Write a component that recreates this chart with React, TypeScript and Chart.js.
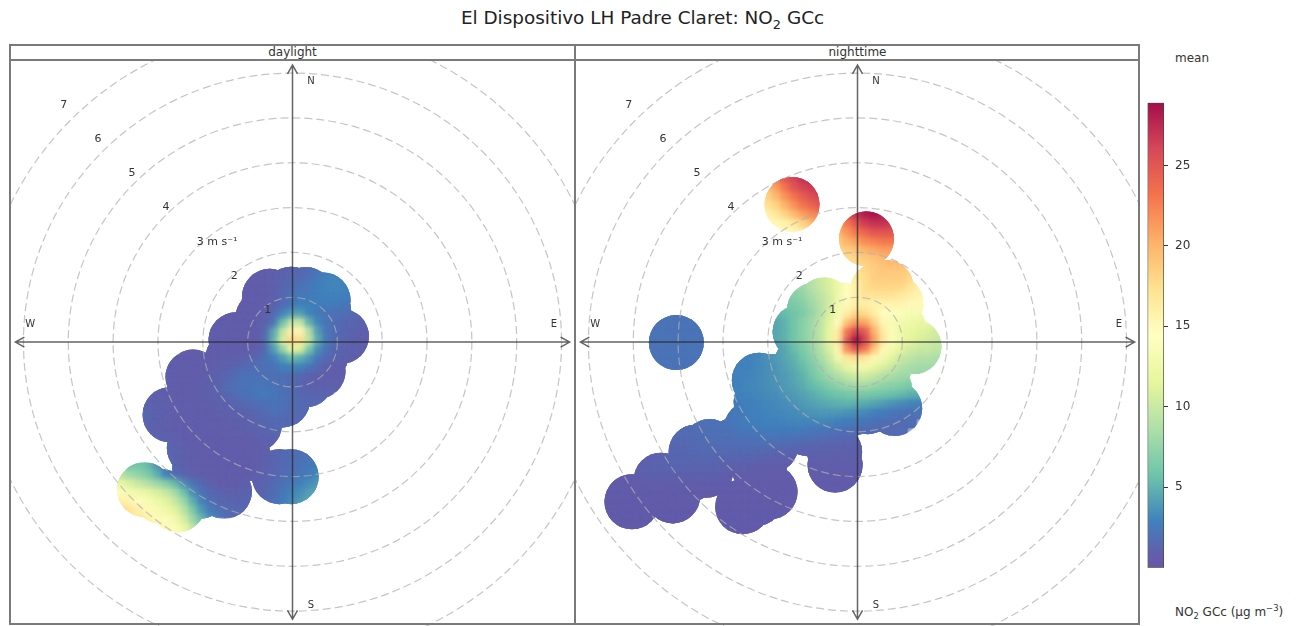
import React, { useEffect, useRef } from "react";
import { Chart, registerables } from "chart.js";

Chart.register(...registerables);

// ---------- data ----------
const PANEL_NAMES = ["daylight", "nighttime"];
const RING_SPEEDS = [1, 2, 3, 4, 5, 6, 7];
const RING_LABELS = ["1", "2", "3 m s\u207B\u00B9", "4", "5", "6", "7"];
const RING_LABEL_U = [-0.55, -1.3, -1.68, -2.82, -3.58, -4.34, -5.1];
const RING_LABEL_V = [0.71, 1.47, 2.23, 3.01, 3.77, 4.53, 5.29];
const COMPASS_NAMES = ["N", "E", "S", "W"];
const COMPASS_U = [0.41, 5.83, 0.41, -5.85];
const COMPASS_V = [5.82, 0.4, -5.87, 0.4];
const COLORBAR_TICKS = [5, 10, 15, 20, 25];
const VALUE_MIN = 0;
const VALUE_MAX = 28.9;
const BIN_RADIUS = 0.613;
const CELL_STEP = 0.2;

// occupied wind bins: [u, v] in m/s
const dayBins: [number, number][] = [
  [-0.51, 1.02], [-0.03, 1.07], [0.3, 1.06], [0.68, 0.94], [0.69, 0.72], [-0.55, 0.76], [-0.66, 0.54], [-0.14, 0.54], [0.45, 0.54],
  [-1.26, 0.05], [-0.74, 0.05], [-0.14, 0.05], [0.45, 0.05], [1.09, 0.13], [-1.33, -0.36], [-0.74, -0.36],
  [-0.14, -0.36], [0.64, -0.28], [0.57, -0.65], [-2.22, -0.78], [-1.7, -0.8], [-1.11, -0.8], [-0.59, -0.8],
  [-0.14, -0.8], [0.3, -0.84], [-2.22, -1.29], [-1.7, -1.29], [-1.18, -1.29], [-0.66, -1.32], [-0.22, -1.29],
  [-2.73, -1.62], [-2.22, -1.7], [-1.7, -1.7], [-1.18, -1.7], [-0.85, -1.84], [-2.19, -2.36], [-1.7, -2.36],
  [-1.11, -2.51], [-2.07, -2.81], [-1.52, -2.74], [-2.07, -3.33], [-1.52, -3.33], [-3.3, -3.29], [-2.93, -3.44],
  [-2.56, -3.63], [-0.03, -3.0], [-0.29, -3.0],
];
const nightBins: [number, number][] = [
  [-1.46, 3.07], [0.2, 2.3], [-4.04, -0.01], [0.64, 1.22], [0.45, 1.16], [0.86, 0.86], [0.9, 0.34], [1.26, -0.1],
  [-0.74, 0.83], [-0.96, 0.71], [-1.28, 0.23], [-0.36, 0.71], [0.08, 0.64], [-0.66, 0.12], [-0.14, 0.12], [0.45, 0.12],
  [-0.74, -0.29], [-0.22, -0.29], [0.3, -0.29], [0.6, -0.55], [0.6, -1.03], [0.83, -1.48], [0.23, -1.44], [-0.14, -1.48],
  [-2.19, -0.85], [-2.37, -1.93], [-2.15, -1.33], [-1.85, -0.88], [-1.78, -1.4], [-1.18, -1.33], [-0.66, -1.33],
  [-1.48, -0.81], [-0.88, -0.81], [-0.36, -0.81], [0.08, -0.81], [-1.26, -0.51], [-1.7, -1.93], [-1.11, -1.93],
  [-1.93, -2.3], [-0.74, -2.0], [-0.51, -2.45], [-0.5, -2.74], [-2.74, -2.3], [-3.3, -2.33], [-3.6, -2.45],
  [-3.38, -2.86], [-3.71, -2.93], [-2.19, -2.82], [-4.38, -3.08], [-5.03, -3.56], [-4.12, -3.43], [-1.95, -3.34],
  [-2.26, -3.49], [-2.56, -3.67],
];

// surface rows: [v, first u, values along u]
const dayRows: [number, number, number[]][] = [
  [1.8, -0.6, [1, 1, 1.1, 1.2, 1.3, 1.6, 1.8]],
  [1.6, -0.8, [0.9, 0.9, 1, 1.1, 1.3, 1.4, 1.7, 2.2, 2.6, 2.8]],
  [1.4, -1.2, [0.9, 0.9, 0.9, 0.9, 1, 1.2, 1.5, 1.7, 2, 2.6, 3, 3.1, 3]],
  [1.2, -1.4, [0.8, 0.8, 0.8, 0.8, 0.9, 1, 1.3, 1.8, 2.2, 2.5, 2.8, 3.1, 3.2, 3, 3]],
  [1.0, -1.4, [0.8, 0.8, 0.8, 0.8, 0.9, 1.1, 1.5, 2.1, 2.5, 2.6, 2.8, 3, 3, 2.9, 2.6, 2.6]],
  [0.8, -1.6, [0.8, 0.8, 0.8, 0.8, 0.8, 0.9, 1.2, 1.6, 2.4, 2.9, 2.9, 2.8, 2.8, 2.6, 2.4, 2.2, 2.2]],
  [0.6, -2, [0.8, 0.8, 0.8, 0.8, 0.8, 0.8, 0.8, 1, 1.6, 3, 4, 4.2, 3, 2.5, 2.2, 2, 1.9, 1.7, 1.6]],
  [0.4, -2.2, [0.8, 0.8, 0.8, 0.8, 0.8, 0.8, 0.8, 0.8, 1.2, 2, 5.5, 9.5, 10, 5, 3, 2.2, 1.8, 1.5, 1.3, 1.1, 1]],
  [0.2, -2.2, [0.8, 0.8, 0.8, 0.8, 0.8, 0.8, 0.8, 0.8, 1.4, 4.5, 9.5, 15.5, 15, 9, 4, 2.2, 1.7, 1.4, 1.2, 1, 1]],
  [0, -2.2, [0.8, 0.8, 0.8, 0.8, 0.8, 0.8, 0.8, 0.8, 1.6, 5, 11, 18, 17.5, 9.5, 4.5, 2.3, 1.6, 1.3, 1.1, 1, 1]],
  [-0.2, -2.4, [0.9, 0.8, 0.8, 0.8, 0.8, 0.8, 0.8, 0.8, 0.9, 1.4, 4, 7.5, 12, 11.5, 6.5, 3.5, 2.1, 1.4, 1.2, 1, 1, 1]],
  [-0.4, -3, [1, 0.9, 0.9, 0.8, 0.8, 0.8, 0.8, 0.9, 1, 1, 1.2, 1.5, 2, 2.8, 4, 5.5, 5, 3.8, 2.2, 1.6, 1.2, 1.1, 1, 1]],
  [-0.6, -3.2, [1, 1, 0.9, 0.9, 0.8, 0.8, 0.8, 0.9, 1, 1.1, 1.4, 1.7, 1.9, 2, 2.2, 2.8, 3, 3, 2.4, 1.6, 1, 0.9, 0.9, 0.9]],
  [-0.8, -3.2, [1.1, 1, 0.9, 0.9, 0.8, 0.8, 0.9, 1, 1.2, 1.5, 1.9, 2.1, 2.1, 2, 1.9, 1.9, 1.7, 1.4, 1.1, 1, 0.9, 0.9, 0.9]],
  [-1, -3.4, [1.2, 1.1, 1, 0.9, 0.9, 0.8, 0.9, 1, 1.1, 1.3, 1.7, 2, 2.2, 2.3, 2.4, 2.2, 2, 1.7, 1.3, 1.1, 1, 1, 1]],
  [-1.2, -3.6, [1.4, 1.3, 1.2, 1, 0.9, 0.9, 0.9, 0.9, 1, 1.1, 1.3, 1.6, 1.9, 2.1, 2.4, 2.5, 2.4, 2.1, 1.8, 1.5, 1.4, 1.3, 1.3]],
  [-1.4, -3.6, [1.5, 1.4, 1.2, 1.1, 1, 0.9, 0.9, 0.9, 0.9, 1, 1.1, 1.2, 1.4, 1.7, 1.9, 2.1, 2.2, 2, 1.7, 1.6, 1.5, 1.5]],
  [-1.6, -3.6, [1.6, 1.5, 1.3, 1.1, 1, 0.9, 0.9, 0.9, 0.9, 0.9, 1, 1, 1.1, 1.2, 1.4, 1.7, 2, 1.9, 1.6, 1.6, 1.6]],
  [-1.8, -3.6, [1.7, 1.5, 1.3, 1.1, 1, 0.9, 0.9, 0.9, 0.9, 0.9, 0.9, 1, 1, 1.1, 1.3, 1.4, 1.6, 1.6, 1.6, 1.6]],
  [-2, -3.4, [1.4, 1.2, 1.1, 1, 0.9, 0.9, 0.9, 0.9, 0.9, 0.9, 0.9, 1, 1.1, 1.2, 1.4, 1.5, 1.6, 1.6]],
  [-2.2, -3, [1.3, 1.2, 1, 0.9, 0.9, 0.9, 0.8, 0.8, 0.8, 0.8, 0.8, 0.9, 1, 1.2, 1.4]],
  [-2.4, -3, [1.5, 1.4, 1.2, 1, 0.9, 0.8, 0.8, 0.8, 0.8, 0.8, 0.8, 0.9, 1, 1.2, 1.4, 1.6, 1.7, 1.8]],
  [-2.6, -3, [1.6, 1.5, 1.2, 1, 0.9, 0.8, 0.8, 0.8, 0.8, 0.8, 0.8, 0.9, 1, 1.3, 1.6, 1.8, 2, 2.2, 2.3]],
  [-2.8, -3.6, [6, 6, 5.5, 4, 2, 1.4, 1.1, 0.9, 0.8, 0.8, 0.8, 0.8, 0.8, 0.8, 0.9, 1, 1.3, 1.6, 1.9, 2.2, 2.5, 2.8, 3]],
  [-3, -4, [9, 9, 8, 7.5, 6.5, 5, 3, 1.8, 1.3, 1, 0.9, 0.8, 0.8, 0.8, 0.8, 0.8, 1, 1.2, 1.4, 1.7, 2, 2.3, 2.8, 3.3, 3.6]],
  [-3.2, -4, [13, 12, 11, 10, 9, 8, 7, 5.5, 3.5, 2.2, 1.5, 1.1, 0.9, 0.8, 0.9, 1, 1.1, 1.3, 1.6, 2, 2.5, 3, 3.5, 4, 4.2]],
  [-3.4, -4, [14, 14, 13, 12.5, 12, 11, 10, 8.5, 6, 3.5, 2.2, 1.5, 1.2, 1, 1, 1.2, 1.2, 1.4, 1.8, 2.4, 3, 3.6, 4.2, 4.6, 4.8]],
  [-3.6, -4, [16, 16, 15.5, 14.5, 13.5, 12.5, 11.5, 10, 8, 5, 3, 2, 1.5, 1.3, 1.3, 1.3, 1.4, 1.6, 2, 2.6, 3.3, 4, 4.6]],
  [-3.8, -3.8, [18, 17, 16, 15, 13.5, 12.5, 11.5, 9.5, 6.5, 4, 2.6, 2, 1.6, 1.5, 1.6]],
  [-4, -3.4, [17, 16, 15, 14, 13, 11, 8, 5.5, 3.5]],
  [-4.2, -3, [16, 15, 14, 12.5, 10, 7]],
  [-4.4, -2.8, [15, 15, 13, 11]],
];

const nightRows: [number, number, number[]][] = [
  [3.8, -2, [23, 24, 26, 27, 27.5, 28]],
  [3.6, -2.2, [20, 21, 23, 25, 26, 27, 27.5, 28]],
  [3.4, -2.2, [18, 19, 21, 23, 25, 26, 26.5, 27]],
  [3.2, -2.2, [17, 18, 19.5, 21.5, 23, 24.5, 25.5, 26]],
  [3.0, -2.2, [16, 17, 18, 20, 21.5, 23, 24, 25]],
  [2.8, -2.2, [15, 15.5, 16.5, 18, 19.5, 21, 22, 23]],
  [2.6, -2, [15, 15, 15.5, 16.5, 18, 19.5, 20.5]],
  [2.4, -1.8, [14.5, 15, 15, 16, 17]],
  [3.0, -0.2, [27, 28, 29, 29, 28]],
  [2.8, -0.4, [24, 25.5, 27, 28, 28.5, 28, 27]],
  [2.6, -0.6, [19, 21, 23, 25, 26.5, 27, 27, 26.5, 26]],
  [2.4, -0.6, [18, 20, 21.5, 23, 24, 25, 25, 25, 25]],
  [2.2, -0.6, [18, 18.5, 20, 21, 22, 22.5, 23, 23, 23]],
  [2.0, -0.6, [17.5, 18, 18.5, 19, 20, 20.5, 21, 21, 21]],
  [1.8, -0.4, [17, 17.5, 18, 18.5, 19, 19.5, 20, 20, 19.5]],
  [1.6, -0.4, [15, 16, 17, 18, 18.5, 19, 19, 19, 18.5, 18]],
  [1.4, -1.2, [8, 9, 10, 11, 12.5, 15, 16.5, 17.5, 18.5, 18.5, 18.5, 18.5, 18, 17]],
  [1.2, -1.6, [6.5, 7.5, 8, 9, 10, 11, 12.5, 14.5, 16, 17.5, 18, 18, 18, 18, 17, 16]],
  [1.0, -1.8, [5.5, 6.5, 7, 7.5, 8.5, 9.5, 10.5, 12.5, 14.5, 16, 17, 17, 17, 17, 16.5, 16, 15.5, 15]],
  [0.8, -2, [5, 5.5, 6, 6.5, 7, 8, 9, 10.5, 13, 15, 16, 16, 15.5, 15.5, 15.5, 15.5, 15, 15, 14.5]],
  [0.6, -2, [4.5, 5, 5.5, 6, 6.5, 7.5, 9, 11, 13.5, 16, 18, 17.5, 16, 14.5, 14, 14, 13.5, 13.5, 13, 13]],
  [0.4, -2.2, [4, 4.2, 4.5, 5, 6, 7, 8, 9.5, 11.5, 14.5, 19, 21, 20.5, 18, 15, 13.5, 13, 12.5, 12, 12, 11.5]],
  [0.2, -2.2, [4, 4.2, 4.5, 5, 6, 7, 8, 9.5, 12, 16, 23, 26, 24.5, 20, 16, 14, 12.5, 12, 11.5, 11, 10.5, 10.5]],
  [0, -2.2, [4, 4.2, 4.5, 5, 6, 7, 8, 9.5, 12, 16.5, 25, 29, 26, 21, 16.5, 14, 12.5, 11.5, 11, 10.5, 10, 10]],
  [-0.2, -2.8, [3, 3, 3, 3.2, 3.6, 4, 4.5, 5.5, 6.5, 7.5, 9, 11, 15, 22, 25, 23, 19, 15, 13, 11.5, 10.5, 10, 10, 9.5, 9.5]],
  [-0.4, -3, [3, 3, 3, 3, 3.2, 3.6, 4, 4.5, 5, 6, 7, 8.5, 10, 13, 16.5, 17, 16.5, 15, 13, 11.5, 10, 9.5, 9, 9, 8.5]],
  [-0.6, -3, [3, 3, 3, 3, 3.2, 3.5, 3.8, 4.2, 4.8, 5.5, 6.5, 7.5, 9, 10.5, 12, 13, 13, 12, 11, 10, 9, 8.5, 8.2, 8]],
  [-0.8, -3, [3, 3, 3, 3.1, 3.3, 3.5, 3.8, 4, 4.5, 5, 6, 7, 8, 8.8, 9.8, 10.5, 10.5, 9.8, 9, 8.5, 8, 8, 7.5]],
  [-1, -3, [3, 3, 3, 3.2, 3.3, 3.5, 3.7, 4, 4.4, 4.8, 5.5, 6, 6.8, 7.5, 8, 8.5, 8.5, 8, 7.5, 7.2, 7, 6.5, 6.5]],
  [-1.2, -3, [3, 3, 3, 3.1, 3.2, 3.4, 3.5, 3.8, 4, 4.4, 4.8, 5.2, 5.7, 6, 6.3, 6.5, 6.5, 6.2, 6, 5.8, 5.5, 5, 5, 5]],
  [-1.4, -3.2, [2.5, 2.6, 2.8, 2.8, 2.9, 3, 3.2, 3.3, 3.5, 3.7, 4, 4.3, 4.6, 4.8, 5, 5.2, 5, 4.8, 4.5, 4.2, 3.8, 3.5, 3.2, 3, 3]],
  [-1.6, -3.6, [2, 2, 2.2, 2.3, 2.4, 2.6, 2.8, 3, 3.1, 3.2, 3.3, 3.4, 3.6, 3.8, 3.9, 4, 4, 3.8, 3.6, 3.4, 3, 2.8, 2.5, 2.2, 2.1, 2.1]],
  [-1.8, -4.2, [1.7, 1.7, 1.8, 1.9, 2, 2.1, 2.2, 2.4, 2.6, 2.8, 2.9, 3, 3, 3.1, 3.2, 3.2, 3.2, 3.3, 3.2, 3, 2.8, 2.6, 2.4, 2.1, 2, 1.9, 1.8, 1.8]],
  [-2, -4.4, [1.5, 1.6, 1.7, 1.8, 1.8, 1.9, 2, 2, 2.2, 2.4, 2.5, 2.6, 2.7, 2.7, 2.7, 2.7, 2.6, 2.5, 2.4, 2.3, 2.2, 2, 1.9, 1.8, 1.7, 1.6, 1.6, 1.6]],
  [-2.2, -4.6, [1.3, 1.4, 1.5, 1.6, 1.6, 1.7, 1.8, 1.9, 1.9, 1.9, 2, 2.1, 2.1, 2.2, 2.2, 2.1, 2, 1.9, 1.9, 1.7, 1.6, 1.5, 1.5, 1.4, 1.4]],
  [-2.4, -4.8, [1.1, 1.2, 1.3, 1.4, 1.5, 1.5, 1.6, 1.7, 1.7, 1.7, 1.7, 1.7, 1.7, 1.8, 1.7, 1.6, 1.5, 1.4, 1.3, 1.3, 1.2, 1.2, 1.1, 1.1, 1.1, 1.1, 1.1]],
  [-2.6, -5.2, [0.9, 0.9, 1, 1.1, 1.2, 1.3, 1.4, 1.4, 1.4, 1.5, 1.5, 1.4, 1.4, 1.4, 1.4, 1.3, 1.2, 1.2, 1.1, 1.1, 1.1, 1, 1, 1, 1, 1, 1, 1, 1]],
  [-2.8, -5.6, [0.8, 0.8, 0.9, 1, 1.1, 1.2, 1.2, 1.3, 1.3, 1.3, 1.3, 1.3, 1.3, 1.2, 1.1, 1.1, 1, 1, 0.9, 0.9, 0.9, 0.9, 0.9, 0.9, 0.9, 0.9, 0.9, 0.9, 0.9, 0.9, 0.9]],
  [-3, -5.8, [0.7, 0.7, 0.8, 0.8, 0.9, 1, 1.1, 1.1, 1.1, 1.1, 1.1, 1.1, 1.1, 1.1, 1, 0.9, 0.9, 0.8, 0.8, 0.8, 0.8, 0.8, 0.8, 0.8, 0.8, 0.8, 0.8, 0.8, 0.8, 0.8, 0.8, 0.8, 0.8]],
  [-3.2, -5.8, [0.6, 0.6, 0.7, 0.7, 0.7, 0.8, 0.9, 0.9, 0.9, 0.9, 0.9, 0.9, 0.9, 0.9, 0.8, 0.8, 0.8, 0.7, 0.7, 0.7, 0.7, 0.7, 0.7, 0.7, 0.7, 0.7, 0.7, 0.7, 0.7, 0.7, 0.7, 0.7, 0.7]],
  [-3.4, -5.8, [0.6, 0.6, 0.6, 0.7, 0.7, 0.7, 0.7, 0.7, 0.7, 0.7, 0.7, 0.7, 0.7, 0.7, 0.7, 0.7, 0.7, 0.7, 0.7, 0.7, 0.7, 0.7, 0.7, 0.7, 0.7, 0.7, 0.7, 0.7, 0.7]],
  [-3.6, -5.8, [0.6, 0.6, 0.6, 0.6, 0.6, 0.6, 0.7, 0.7, 0.7, 0.7, 0.7, 0.7, 0.7, 0.7, 0.7, 0.7, 0.7, 0.7, 0.7, 0.7, 0.7, 0.7, 0.7]],
  [-3.8, -5.8, [0.6, 0.6, 0.6, 0.6, 0.6, 0.6, 0.6, 0.6, 0.6, 0.6, 0.6, 0.6, 0.6, 0.6, 0.6, 0.6, 0.6, 0.6, 0.6, 0.6, 0.6, 0.6]],
  [-4, -5.6, [0.6, 0.6, 0.6, 0.6, 0.6, 0.6, 0.6, 0.6, 0.6, 0.6, 0.6, 0.6, 0.6, 0.6, 0.6, 0.6, 0.6, 0.6, 0.6, 0.6]],
  [-4.2, -5.4, [0.5, 0.5, 0.5, 0.6, 0.6, 0.6, 0.6, 0.6, 0.6, 0.6, 0.6, 0.6, 0.6, 0.6, 0.6, 0.6, 0.6, 0.6]],
  [-4.4, -3.2, [0.5, 0.5, 0.5, 0.5, 0.5, 0.5, 0.5]],
  [0.8, -4.4, [2.2, 2.2, 2.2, 2.2, 2.2]],
  [0.6, -4.6, [2.2, 2.2, 2.2, 2.2, 2.2, 2.2, 2.2]],
  [0.4, -4.8, [2.2, 2.2, 2.2, 2.2, 2.2, 2.2, 2.2, 2.2, 2.2]],
  [0.2, -4.8, [2.2, 2.2, 2.2, 2.2, 2.2, 2.2, 2.2, 2.2, 2.2]],
  [0, -4.8, [2.2, 2.2, 2.2, 2.2, 2.2, 2.2, 2.2, 2.2, 2.2]],
  [-0.2, -4.8, [2.2, 2.2, 2.2, 2.2, 2.2, 2.2, 2.2, 2.2, 2.2]],
  [-0.4, -4.8, [2.2, 2.2, 2.2, 2.2, 2.2, 2.2, 2.2, 2.2, 2.2]],
  [-0.6, -4.6, [2.2, 2.2, 2.2, 2.2, 2.2, 2.2, 2.2]],
  [-0.8, -4.4, [2.2, 2.2, 2.2, 2.2, 2.2]],
];

// ---------- colours ----------
const RAMP_STOPS = [0, 0.03, 0.1, 0.2, 0.3, 0.4, 0.5, 0.6, 0.7, 0.8, 0.9, 1];
const RAMP_COLORS = [
  [94, 79, 162], [90, 86, 168], [54, 122, 186], [102, 194, 165], [171, 221, 164], [230, 245, 152],
  [255, 255, 191], [254, 224, 139], [253, 174, 97], [244, 109, 67], [213, 62, 79], [158, 1, 66],
];
function rampColor(t: number): string {
  const x = Math.max(0, Math.min(1, t));
  let i = 0;
  while (i < RAMP_STOPS.length - 2 && x > RAMP_STOPS[i + 1]) i++;
  const f = (x - RAMP_STOPS[i]) / (RAMP_STOPS[i + 1] - RAMP_STOPS[i]);
  const c = RAMP_COLORS[i].map((a, k) => a + (RAMP_COLORS[i + 1][k] - a) * f);
  return `rgb(${Math.round(c[0] + (255 - c[0]) * 0.05)},${Math.round(c[1] + (255 - c[1]) * 0.05)},${Math.round(c[2] + (255 - c[2]) * 0.05)})`;
}
const valueColor = (v: number) => rampColor((v - VALUE_MIN) / (VALUE_MAX - VALUE_MIN));

// ---------- drawing helpers ----------
const FONT = '"DejaVu Sans"';
const X_RANGE = 6.3;
const Y_TOP = 6.29;
const Y_BOTTOM = -6.33;
const ARROW_REACH = 6.18;

function panelPlugin(bins: [number, number][]) {
  return {
    id: "panelDecor",
    beforeDatasetsDraw(chart: any) {
      const { ctx, scales } = chart;
      const r = scales.x.getPixelForValue(BIN_RADIUS) - scales.x.getPixelForValue(0);
      ctx.save();
      ctx.beginPath();
      for (const [u, v] of bins) {
        const x = scales.x.getPixelForValue(u);
        const y = scales.y.getPixelForValue(v);
        ctx.moveTo(x + r, y);
        ctx.arc(x, y, r, 0, Math.PI * 2);
      }
      ctx.clip();
    },
    beforeDatasetDraw(chart: any, args: any) {
      chart.ctx.filter = args.index === 0 ? "blur(3px)" : "none";
    },
    afterDatasetDraw(chart: any) {
      chart.ctx.filter = "none";
    },
    afterDatasetsDraw(chart: any) {
      const { ctx, scales, chartArea } = chart;
      ctx.restore();
      const px = (u: number) => scales.x.getPixelForValue(u);
      const py = (v: number) => scales.y.getPixelForValue(v);
      ctx.save();
      ctx.beginPath();
      ctx.rect(chartArea.left, chartArea.top, chartArea.width, chartArea.height);
      ctx.clip();
      // speed rings
      ctx.strokeStyle = "rgba(175,175,175,0.72)";
      ctx.lineWidth = 1.2;
      ctx.setLineDash([8, 4]);
      for (const s of RING_SPEEDS) {
        ctx.beginPath();
        ctx.arc(px(0), py(0), px(s) - px(0), 0, Math.PI * 2);
        ctx.stroke();
      }
      ctx.setLineDash([]);
      // compass axes
      ctx.strokeStyle = "rgba(40,40,40,0.72)";
      ctx.lineWidth = 1.5;
      const ends = [[0, ARROW_REACH], [ARROW_REACH, 0], [0, -ARROW_REACH], [-ARROW_REACH, 0]];
      ctx.beginPath();
      ctx.moveTo(px(0), py(ARROW_REACH));
      ctx.lineTo(px(0), py(-ARROW_REACH));
      ctx.moveTo(px(-ARROW_REACH), py(0));
      ctx.lineTo(px(ARROW_REACH), py(0));
      for (const [u, v] of ends) {
        const x = px(u);
        const y = py(v);
        const dx = Math.sign(u);
        const dy = -Math.sign(v);
        ctx.moveTo(x - dx * 9 + dy * 5, y - dy * 9 + dx * 5);
        ctx.lineTo(x, y);
        ctx.lineTo(x - dx * 9 - dy * 5, y - dy * 9 - dx * 5);
      }
      ctx.stroke();
      // labels
      ctx.fillStyle = "#333";
      ctx.textAlign = "center";
      ctx.textBaseline = "middle";
      ctx.font = `11px ${FONT}`;
      RING_LABELS.forEach((t, i) => ctx.fillText(t, px(RING_LABEL_U[i]), py(RING_LABEL_V[i])));
      ctx.font = `10px ${FONT}`;
      COMPASS_NAMES.forEach((t, i) => ctx.fillText(t, px(COMPASS_U[i]), py(COMPASS_V[i])));
      ctx.restore();
    },
  };
}

function cellPoints(rows: [number, number, number[]][]) {
  const pts: { x: number; y: number; value: number }[] = [];
  for (const [v, u0, values] of rows) {
    values.forEach((value, i) => pts.push({ x: u0 + i * CELL_STEP, y: v, value }));
  }
  return pts;
}

function makePanel(canvas: HTMLCanvasElement, rows: [number, number, number[]][], bins: [number, number][]) {
  const data = cellPoints(rows);
  const colors = data.map((d) => valueColor(d.value));
  const common = { data, backgroundColor: colors, borderWidth: 0, pointBorderWidth: 0, pointStyle: "rect", showLine: false, clip: false };
  return new Chart(canvas, {
    type: "scatter",
    data: {
      datasets: [
        { ...common, pointRadius: 8.5 },
        { ...common, pointRadius: 7.5 },
      ],
    },
    options: {
      responsive: false,
      animation: false,
      layout: { padding: 0, autoPadding: false },
      scales: {
        x: { type: "linear", min: -X_RANGE, max: X_RANGE, display: false },
        y: { type: "linear", min: Y_BOTTOM, max: Y_TOP, display: false },
      },
      plugins: { legend: { display: false }, title: { display: false }, tooltip: { enabled: false } },
    },
    plugins: [panelPlugin(bins)],
  } as any);
}

function makeColorbar(canvas: HTMLCanvasElement) {
  return new Chart(canvas, {
    type: "bar",
    data: {
      labels: ["mean"],
      datasets: [
        {
          data: [[VALUE_MIN, VALUE_MAX]],
          barPercentage: 1,
          categoryPercentage: 1,
          borderWidth: 1,
          borderColor: "#444",
          borderSkipped: false,
          backgroundColor: (c: any) => {
            const area = c.chart.chartArea;
            if (!area) return "#888";
            const g = c.chart.ctx.createLinearGradient(0, area.bottom, 0, area.top);
            RAMP_STOPS.forEach((s) => g.addColorStop(s, rampColor(s)));
            return g;
          },
        },
      ],
    },
    options: {
      responsive: false,
      animation: false,
      layout: { padding: { left: 7.5, top: 7.7, bottom: 7.3, right: 0 }, autoPadding: false },
      scales: {
        x: { display: false },
        y: {
          position: "right",
          min: VALUE_MIN,
          max: VALUE_MAX,
          afterBuildTicks: (s: any) => {
            s.ticks = COLORBAR_TICKS.map((value) => ({ value }));
          },
          afterFit: (s: any) => {
            s.width = 46;
            s.paddingTop = 0;
            s.paddingBottom = 0;
          },
          border: { display: false },
          grid: { drawOnChartArea: false, drawTicks: true, tickLength: 4, color: "#333" },
          ticks: { color: "#333", padding: 7, font: { family: "DejaVu Sans", size: 12 }, callback: (v: any) => String(v) },
        },
      },
      plugins: { legend: { display: false }, title: { display: false }, tooltip: { enabled: false } },
    },
  } as any);
}

const LINE = "#7a7a7a";
const box = (left: number, top: number, width: number, height: number, extra: React.CSSProperties = {}): React.CSSProperties => ({
  position: "absolute",
  left,
  top,
  width,
  height,
  ...extra,
});
const small: React.CSSProperties = { fontSize: "70%", lineHeight: 0 };

export default function App() {
  const dayRef = useRef<HTMLCanvasElement>(null);
  const nightRef = useRef<HTMLCanvasElement>(null);
  const barRef = useRef<HTMLCanvasElement>(null);

  useEffect(() => {
    const charts = [
      makePanel(dayRef.current!, dayRows, dayBins),
      makePanel(nightRef.current!, nightRows, nightBins),
      makeColorbar(barRef.current!),
    ];
    return () => charts.forEach((c) => c.destroy());
  }, []);

  return (
    <div style={{ position: "fixed", left: 0, top: 0, width: 1307, height: 626, overflow: "hidden", background: "#fff", fontFamily: FONT, color: "#333" }}>
      <div style={box(300, 5, 685, 26, { textAlign: "center", fontSize: 18.4, lineHeight: "26px", color: "#222" })}>
        El Dispositivo LH Padre Claret: NO<sub style={small}>2</sub> GCc
      </div>

      <canvas ref={dayRef} width={565} height={566} style={box(10, 60, 565, 566)} />
      <canvas ref={nightRef} width={565} height={566} style={box(575, 60, 565, 566)} />
      <canvas ref={barRef} width={70} height={480} style={box(1140, 95, 70, 480)} />

      {PANEL_NAMES.map((name, i) => (
        <div key={name} style={box(10 + i * 565, 44, 565, 16, { textAlign: "center", fontSize: 12, lineHeight: "16px" })}>
          {name}
        </div>
      ))}
      <div style={box(9, 44, 1131, 581, { boxSizing: "border-box", border: `2px solid ${LINE}`, pointerEvents: "none" })} />
      <div style={box(9, 59, 1131, 2, { background: LINE })} />
      <div style={box(574, 44, 2, 581, { background: LINE })} />

      <div style={box(1175, 50, 80, 16, { fontSize: 12, lineHeight: "16px" })}>mean</div>
      <div style={box(1175, 603, 132, 18, { fontSize: 12, lineHeight: "18px", whiteSpace: "nowrap" })}>
        NO<sub style={small}>2</sub> GCc (µg m<sup style={small}>−3</sup>)
      </div>
    </div>
  );
}
